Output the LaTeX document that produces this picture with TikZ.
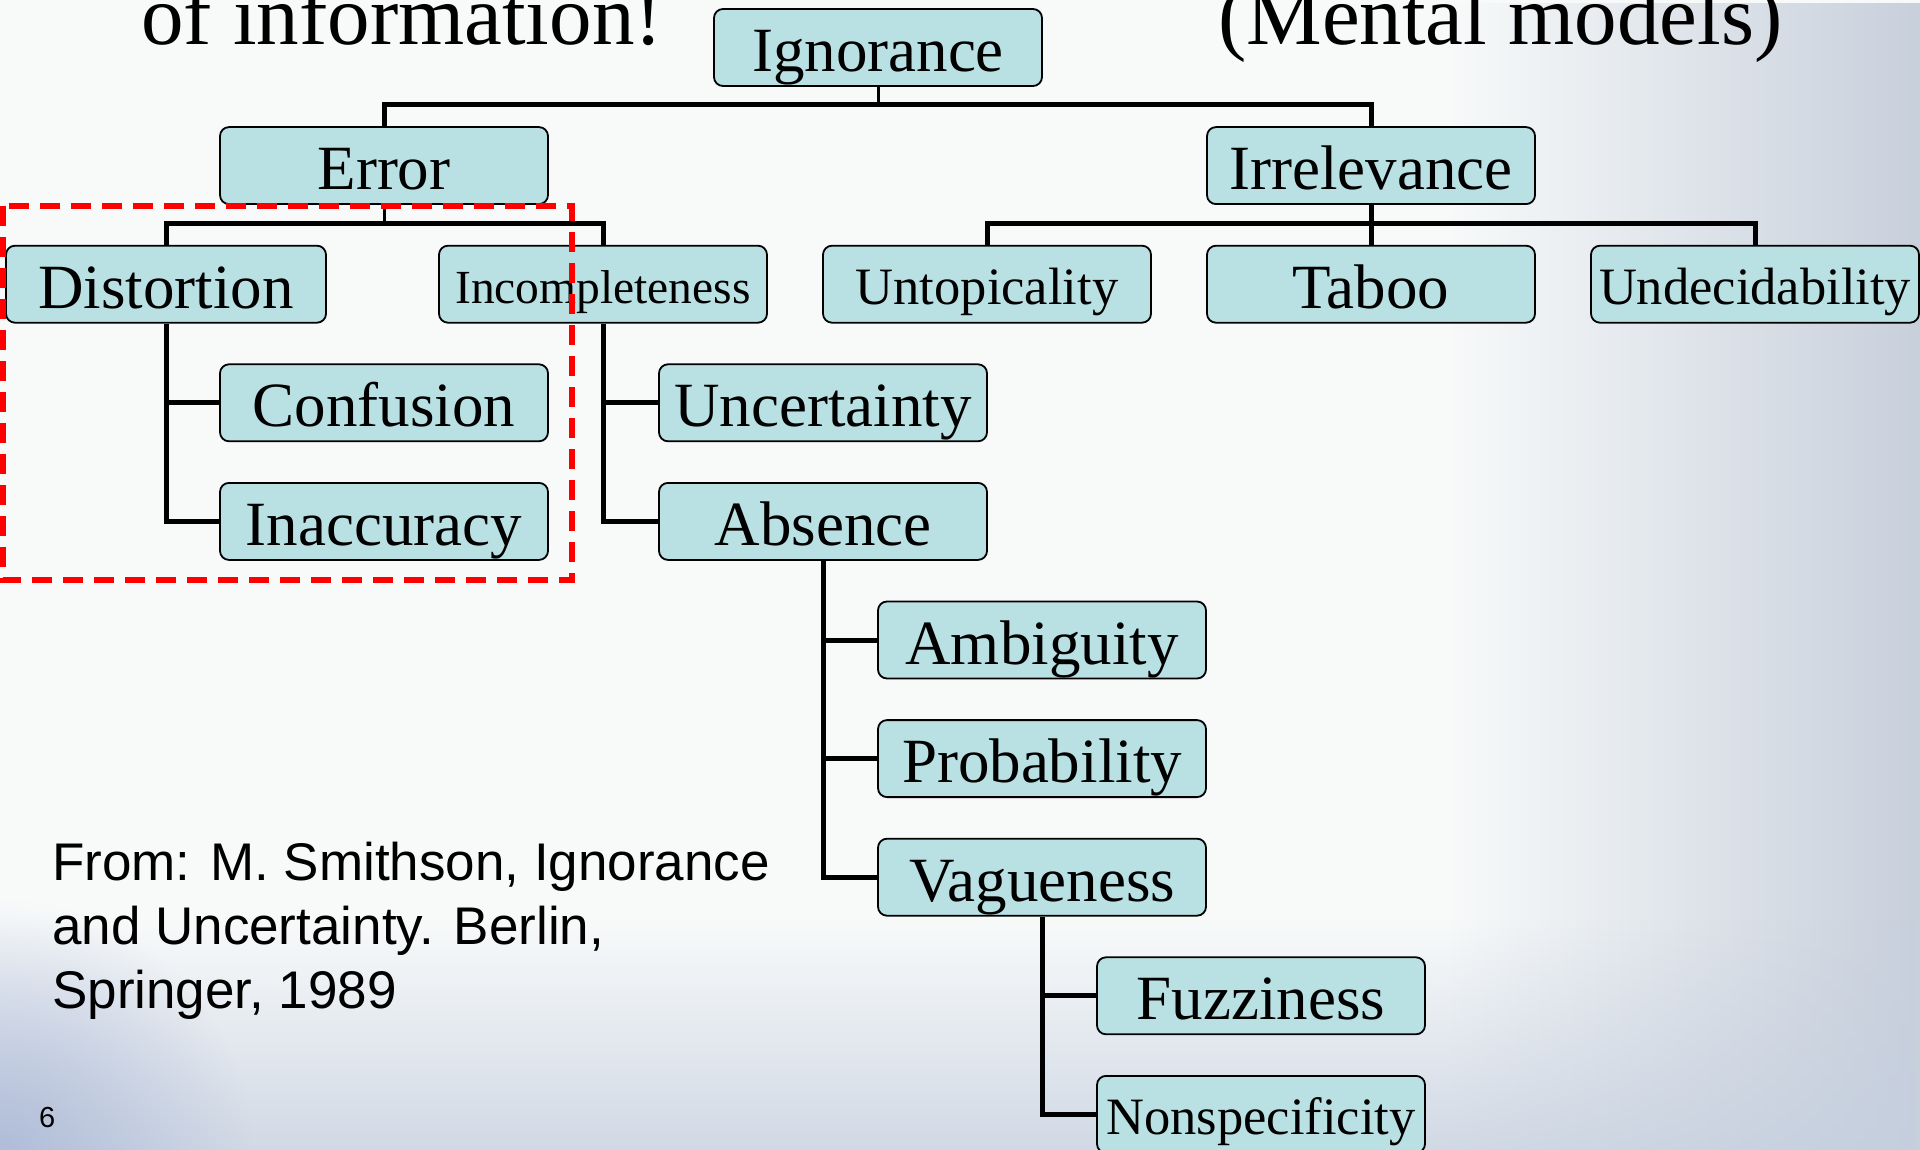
\documentclass[tikz,border=0pt]{standalone}
\usepackage{fontspec}
\setmainfont{Liberation Serif}
\newfontfamily\arialfont{Liberation Sans}
\usetikzlibrary{fadings}
\definecolor{bgbase}{RGB}{248,250,250}
\definecolor{bgright}{RGB}{200,208,220}
\definecolor{bgbottom}{RGB}{196,206,222}
\definecolor{bgcorner}{RGB}{168,182,214}
\definecolor{boxfill}{RGB}{185,224,227}
\tikzfading[name=fadetoright, left color=transparent!100, right color=transparent!0]
\tikzfading[name=fadetobottom, top color=transparent!100, bottom color=transparent!0]
\tikzfading[name=fadecorner, inner color=transparent!0, outer color=transparent!100]
\tikzset{
  nodebox/.style={draw=black, line width=1.8pt, fill=boxfill, rounded corners=9pt,
    minimum width=328pt, minimum height=77pt, inner sep=0pt,
    text height=48pt, text depth=0pt, font=\fontsize{63}{70}\selectfont},
  smalltext/.style={text height=40pt, font=\fontsize{52.5}{60}\selectfont},
  tinytext/.style={text height=38pt, font=\fontsize{47.5}{55}\selectfont},
  conn/.style={draw=black, line width=5pt},
  stub/.style={draw=black, line width=3pt},
}
\begin{document}
\begin{tikzpicture}[x=1pt, y=-1pt]
\useasboundingbox (0,0) rectangle (1920,1150);
% background
\fill[bgbase] (0,0) rectangle (1920,1150);
\fill[bgright, path fading=fadetoright] (1450,0) rectangle (1920,1150);
\fill[bgbottom, path fading=fadetobottom, opacity=0.75] (0,920) rectangle (1920,1150);
\fill[bgcorner, path fading=fadecorner, opacity=0.8] (-250,900) rectangle (250,1400);

% titles (cut off at the top, as in the slide)
\node[anchor=base west, inner sep=0pt, font=\fontsize{85}{90}\selectfont] (t1) at (141,45) {of information!};
\node[anchor=base west, inner sep=0pt, font=\fontsize{85}{90}\selectfont] (t2) at (1218,45) {(Mental models)};

% nodes
\node[nodebox] (ign) at (878,47.5) {Ignorance};
\node[nodebox] (err) at (384,165.6) {Error};
\node[nodebox] (irr) at (1371,165.6) {Irrelevance};
\node[nodebox, minimum width=320pt] (dis) at (166,284.2) {Distortion};
\node[nodebox, tinytext] (inc) at (603,284.2) {Incompleteness};
\node[nodebox, smalltext] (unt) at (987,284.2) {Untopicality};
\node[nodebox] (tab) at (1371,284.2) {Taboo};
\node[nodebox, smalltext] (und) at (1755,284.2) {Undecidability};
\node[nodebox] (con) at (384,402.8) {Confusion};
\node[nodebox] (ina) at (384,521.4) {Inaccuracy};
\node[nodebox] (unc) at (823,402.8) {Uncertainty};
\node[nodebox] (abs) at (823,521.4) {Absence};
\node[nodebox] (amb) at (1042,640) {Ambiguity};
\node[nodebox] (pro) at (1042,758.6) {Probability};
\node[nodebox] (vag) at (1042,877.2) {Vagueness};
\node[nodebox] (fuz) at (1261,995.8) {Fuzziness};
\node[nodebox, smalltext] (non) at (1261,1114.4) {Nonspecificity};

% connectors
\coordinate (b1) at (878,105);
\coordinate (b2) at (384,224);
\coordinate (b3) at (1371,224);
\draw[stub] (ign.south) -- (b1);
\draw[conn] (err.north) |- (b1) -| (irr.north);
\draw[stub] (err.south) -- (b2);
\draw[conn] (dis.north) |- (b2) -| (inc.north);
\draw[conn] (irr.south) -- (b3);
\draw[conn] (unt.north) |- (b3) -| (und.north);
\draw[conn] (b3) -- (tab.north);
\draw[conn] (dis.south) |- (ina.west);
\draw[conn] (dis.south |- con.west) -- (con.west);
\draw[conn] (inc.south) |- (abs.west);
\draw[conn] (inc.south |- unc.west) -- (unc.west);
\draw[conn] (abs.south) |- (vag.west);
\draw[conn] (abs.south |- amb.west) -- (amb.west);
\draw[conn] (abs.south |- pro.west) -- (pro.west);
\draw[conn] (vag.south) |- (non.west);
\draw[conn] (vag.south |- fuz.west) -- (fuz.west);

% highlight
\draw[red, line width=6pt, dash pattern=on 20pt off 11pt] (3,206) rectangle (572,580);

% citation
\node[anchor=base west, inner sep=0pt, font=\arialfont\fontsize{53}{64}\selectfont] (cite) at (52,880)
  {From: M. Smithson, Ignorance};
\node[anchor=base west, inner sep=0pt, font=\arialfont\fontsize{53}{64}\selectfont] (cite2) at (52,944)
  {and Uncertainty. Berlin,};
\node[anchor=base west, inner sep=0pt, font=\arialfont\fontsize{53}{64}\selectfont] (cite3) at (52,1008)
  {Springer, 1989};
\node[anchor=base west, inner sep=0pt, font=\arialfont\fontsize{29}{32}\selectfont] (pg) at (39,1127) {6};
\end{tikzpicture}
\end{document}
